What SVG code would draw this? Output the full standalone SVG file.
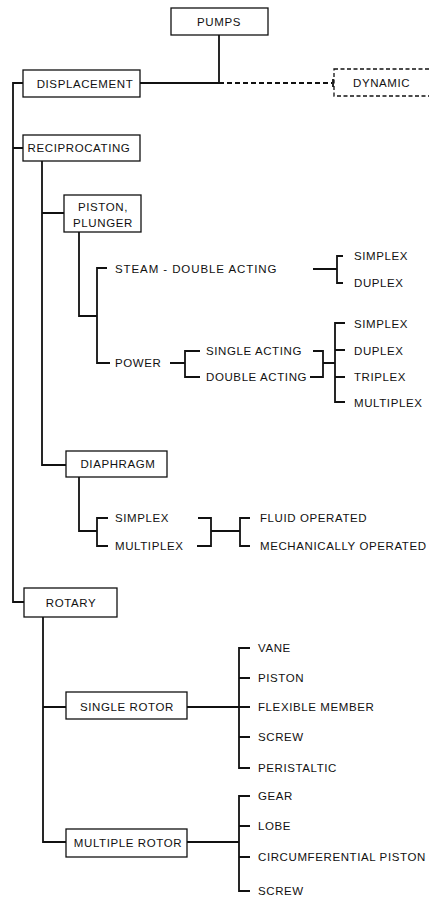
<svg xmlns="http://www.w3.org/2000/svg" width="429" height="898" viewBox="0 0 429 898">
<style>
text{font-family:"Liberation Sans",Arial,sans-serif;font-size:11.5px;letter-spacing:0.6px;fill:#111}
.c{text-anchor:middle}
.box{fill:#fff;stroke:#111;stroke-width:1.3}
.dash{fill:#fff;stroke:#111;stroke-width:1.3;stroke-dasharray:4 2.5}
.ln{fill:none;stroke:#111;stroke-width:1.8}
.dl{fill:none;stroke:#111;stroke-width:1.8;stroke-dasharray:5 3}
</style>
<rect width="429" height="898" fill="#fff"/>
<g id="connectors">
<path class="ln" d="M219 35V83M140 83H219"/>
<path class="dl" d="M219 83H332"/>
<path class="ln" d="M333 79V87"/>
<path class="ln" d="M23 83H13V602H24M13 148H23"/>
<path class="ln" d="M42 161V465H66M42 213H64"/>
<path class="ln" d="M79 232V316H97M107 268H97V363H110"/>
<path class="ln" d="M313 269H337M343 256H337V283H343"/>
<path class="ln" d="M170 363H185M200 351H185V377H200"/>
<path class="ln" d="M313 351H323V377H310M323 363H335M345 323H335V402H345M335 350H345M335 377H345"/>
<path class="ln" d="M79 477V531H97M108 518H97V546H108"/>
<path class="ln" d="M198 518H211V546H197M211 531H240M250 518H240V546H250"/>
<path class="ln" d="M43 617V842H66M43 707H66"/>
<path class="ln" d="M187 707H250M250 648H239V768H250M239 678H250M239 737H250"/>
<path class="ln" d="M187 842H239M250 796H239V891H250M239 826H250M239 857H250"/>
</g>
<g id="pumps"><rect class="box" x="171" y="8" width="97" height="27"/><text class="c" x="219" y="26">PUMPS</text></g>
<g id="displacement"><rect class="box" x="23" y="70" width="117" height="27"/><text class="c" x="85" y="88">DISPLACEMENT</text></g>
<g id="dynamic"><rect class="dash" x="334" y="69" width="120" height="27"/><text x="353" y="87">DYNAMIC</text></g>
<g id="reciprocating"><rect class="box" x="23" y="135" width="117" height="26"/><text class="c" x="79" y="152">RECIPROCATING</text></g>
<g id="piston-plunger"><rect class="box" x="64" y="195" width="77" height="37"/><text class="c" x="103" y="211">PISTON,</text><text class="c" x="103" y="227">PLUNGER</text></g>
<g id="steam"><text x="115" y="273" textLength="162" lengthAdjust="spacing">STEAM - DOUBLE ACTING</text></g>
<g id="steam-simplex"><text x="354" y="260">SIMPLEX</text></g>
<g id="steam-duplex"><text x="354" y="287">DUPLEX</text></g>
<g id="power"><text x="115" y="367">POWER</text></g>
<g id="single-acting"><text x="206" y="355">SINGLE ACTING</text></g>
<g id="double-acting"><text x="206" y="381">DOUBLE ACTING</text></g>
<g id="power-simplex"><text x="354" y="328">SIMPLEX</text></g>
<g id="power-duplex"><text x="354" y="355">DUPLEX</text></g>
<g id="power-triplex"><text x="354" y="381">TRIPLEX</text></g>
<g id="power-multiplex"><text x="354" y="407">MULTIPLEX</text></g>
<g id="diaphragm"><rect class="box" x="66" y="451" width="101" height="26"/><text class="c" x="118" y="468">DIAPHRAGM</text></g>
<g id="dia-simplex"><text x="115" y="522">SIMPLEX</text></g>
<g id="dia-multiplex"><text x="115" y="550">MULTIPLEX</text></g>
<g id="fluid-operated"><text x="260" y="522">FLUID OPERATED</text></g>
<g id="mech-operated"><text x="260" y="550">MECHANICALLY OPERATED</text></g>
<g id="rotary"><rect class="box" x="24" y="588" width="93" height="29"/><text class="c" x="71" y="607">ROTARY</text></g>
<g id="single-rotor"><rect class="box" x="66" y="692" width="121" height="27"/><text class="c" x="127" y="711">SINGLE ROTOR</text></g>
<g id="vane"><text x="258" y="652">VANE</text></g>
<g id="sr-piston"><text x="258" y="682">PISTON</text></g>
<g id="flexible-member"><text x="258" y="711">FLEXIBLE MEMBER</text></g>
<g id="sr-screw"><text x="258" y="741">SCREW</text></g>
<g id="peristaltic"><text x="258" y="772">PERISTALTIC</text></g>
<g id="multiple-rotor"><rect class="box" x="66" y="829" width="121" height="28"/><text class="c" x="128" y="847">MULTIPLE ROTOR</text></g>
<g id="gear"><text x="258" y="800">GEAR</text></g>
<g id="lobe"><text x="258" y="830">LOBE</text></g>
<g id="circumferential-piston"><text x="258" y="861">CIRCUMFERENTIAL PISTON</text></g>
<g id="mr-screw"><text x="258" y="895">SCREW</text></g>
</svg>
